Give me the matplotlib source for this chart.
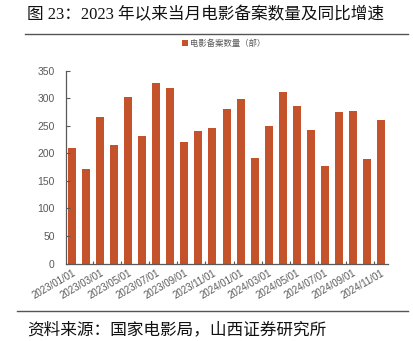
import matplotlib.pyplot as plt
import numpy as np

plt.rcParams['font.family'] = ['Liberation Sans', 'Noto Sans CJK SC']

# 每月电影备案数量（部）
months = ['2023/01/01', '2023/02/01', '2023/03/01', '2023/04/01', '2023/05/01', '2023/06/01',
          '2023/07/01', '2023/08/01', '2023/09/01', '2023/10/01', '2023/11/01', '2023/12/01',
          '2024/01/01', '2024/02/01', '2024/03/01', '2024/04/01', '2024/05/01', '2024/06/01',
          '2024/07/01', '2024/08/01', '2024/09/01', '2024/10/01', '2024/11/01']
counts = [210, 172, 266, 215, 302, 232, 328, 318, 220, 240, 246, 281,
          298, 191, 250, 312, 285, 243, 177, 275, 277, 189, 260]

bar_color = '#C4532B'
gray = '#595959'

fig = plt.figure(figsize=(4.14, 3.41), dpi=100)
ax = fig.add_axes([0.159, 0.227, 0.778, 0.566])

x = np.arange(len(months))
ax.bar(x, counts, width=0.57, color=bar_color, label='电影备案数量（部）')

ax.set_ylim(0, 350)
ax.set_yticks(range(0, 351, 50))
ax.set_xlim(-0.45, len(months) - 0.5)
ax.set_xticks(x[::2])
ax.set_xticklabels(months[::2], rotation=30, ha='right', rotation_mode='anchor')
ax.set_xticks(np.arange(1.5, len(months) - 1, 2), minor=True)

ax.tick_params(axis='y', direction='in', length=3, width=0.8, color=gray,
               labelsize=7.5, labelcolor=gray, pad=8)
ax.tick_params(axis='x', which='major', length=0, labelsize=7, labelcolor=gray, pad=3)
ax.tick_params(axis='x', which='minor', direction='in', length=2.5, width=0.8, color=gray)

for side in ['top', 'right']:
    ax.spines[side].set_visible(False)
for side in ['left', 'bottom']:
    ax.spines[side].set_color(gray)
    ax.spines[side].set_linewidth(0.9)

ax.legend(loc='upper center', bbox_to_anchor=(0.49, 1.2), frameon=False,
          fontsize=6, handlelength=0.7, handleheight=0.7, handletextpad=0.2,
          labelcolor=gray)

# 标题、分隔线和资料来源
fig.text(0.065, 0.955, '图 23：2023 年以来当月电影备案数量及同比增速', fontsize=12,
         family=['Liberation Serif', 'Noto Sans CJK SC'], color='#111111', va='center')
fig.add_artist(plt.Line2D([0.06, 0.985], [0.9, 0.9], color='#555555', linewidth=1))
fig.add_artist(plt.Line2D([0.04, 0.985], [0.088, 0.088], color='#555555', linewidth=1))
fig.text(0.065, 0.033, '资料来源：国家电影局，山西证券研究所', fontsize=12,
         family=['Noto Sans CJK SC'], color='#111111', va='center')

fig.savefig('out.png', dpi=100)
